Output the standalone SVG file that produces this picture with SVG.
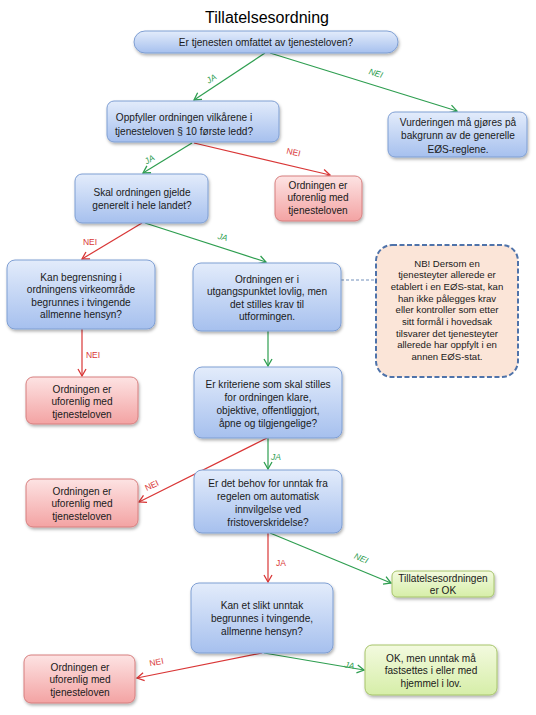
<svg xmlns="http://www.w3.org/2000/svg" width="536" height="715" viewBox="0 0 536 715">
<defs>
<linearGradient id="gBlue" x1="0" y1="0" x2="0" y2="1"><stop offset="0" stop-color="#e3ecfb"/><stop offset="1" stop-color="#a6c0ee"/></linearGradient>
<linearGradient id="gRed" x1="0" y1="0" x2="0" y2="1"><stop offset="0" stop-color="#fde3e3"/><stop offset="1" stop-color="#f3a3a3"/></linearGradient>
<linearGradient id="gGreen" x1="0" y1="0" x2="0" y2="1"><stop offset="0" stop-color="#f3fadf"/><stop offset="1" stop-color="#d6eea8"/></linearGradient>
<filter id="sh" x="-10%" y="-10%" width="125%" height="135%"><feDropShadow dx="1" dy="2" stdDeviation="1.5" flood-color="#000" flood-opacity="0.3"/></filter>
<marker id="aG" markerWidth="10" markerHeight="10" refX="8" refY="5" orient="auto" markerUnits="userSpaceOnUse"><path d="M1,1 L8,5 L1,9" fill="none" stroke="#2e9e50" stroke-width="1.3"/></marker>
<marker id="aR" markerWidth="10" markerHeight="10" refX="8" refY="5" orient="auto" markerUnits="userSpaceOnUse"><path d="M1,1 L8,5 L1,9" fill="none" stroke="#d93636" stroke-width="1.3"/></marker>
<style>
text{font-family:"Liberation Sans",Arial,sans-serif;font-size:10.1px;fill:#1a1a1a;text-anchor:middle}
.title{font-size:16px;fill:#000}
.blue{fill:url(#gBlue);stroke:#7f9fd3;stroke-width:1;filter:url(#sh)}
.red{fill:url(#gRed);stroke:#d77f7f;stroke-width:1;filter:url(#sh)}
.green{fill:url(#gGreen);stroke:#a6c46a;stroke-width:1;filter:url(#sh)}
.nb{fill:#fbe5d8;stroke:#4f73aa;stroke-width:2;stroke-dasharray:5,2.5}
.lg{stroke:#2e9e50;stroke-width:1.2;fill:none;marker-end:url(#aG)}
.lr{stroke:#d93636;stroke-width:1.2;fill:none;marker-end:url(#aR)}
.dash{stroke:#4f73aa;stroke-width:0.8;stroke-dasharray:3,2;fill:none}
.tg{fill:#2e9e50;font-size:8.5px;font-style:italic}
.tr{fill:#d93636;font-size:8.5px}
.nbt{font-size:9.6px}
</style>
</defs>
<text class="title" x="267" y="23">Tillatelsesordning</text>

<g id="connectors">
<line class="lg" x1="265" y1="53" x2="194" y2="100"/>
<line class="lg" x1="270" y1="53" x2="457" y2="111"/>
<line class="lg" x1="192" y1="143" x2="143" y2="173"/>
<line class="lr" x1="194" y1="143" x2="330" y2="175"/>
<line class="lr" x1="142" y1="223" x2="82" y2="259"/>
<line class="lg" x1="145" y1="223" x2="266" y2="262"/>
<line class="dash" x1="341" y1="280" x2="376" y2="280"/>
<line class="lr" x1="82" y1="329" x2="82" y2="376"/>
<line class="lg" x1="268" y1="331" x2="268" y2="366"/>
<line class="lg" x1="268" y1="438" x2="268" y2="469"/>
<line class="lr" x1="267" y1="438" x2="139" y2="502"/>
<line class="lr" x1="268" y1="533" x2="268" y2="582"/>
<line class="lg" x1="270" y1="533" x2="391" y2="583"/>
<line class="lr" x1="262" y1="653" x2="137" y2="678"/>
<line class="lg" x1="264" y1="653" x2="364" y2="670"/>
<text class="tg" transform="translate(213,81) rotate(-33)">JA</text>
<text class="tg" transform="translate(375,76) rotate(17)">NEI</text>
<text class="tg" transform="translate(151,162) rotate(-32)">JA</text>
<text class="tr" transform="translate(293,155) rotate(13)">NEI</text>
<text class="tr" x="90" y="245">NEI</text>
<text class="tg" transform="translate(222,240) rotate(14)">JA</text>
<text class="tr" x="93" y="358">NEI</text>
<text class="tg" x="276" y="460">JA</text>
<text class="tr" transform="translate(153,488) rotate(-26)">NEI</text>
<text class="tr" x="281" y="566">JA</text>
<text class="tg" transform="translate(360,561) rotate(22)">NEI</text>
<text class="tr" transform="translate(157,665) rotate(-11)">NEI</text>
<text class="tg" transform="translate(349,668) rotate(10)">JA</text>
</g>

<g id="n1"><rect class="blue" x="134" y="31" width="264" height="22" rx="11"/>
<text x="266" y="45.5">Er tjenesten omfattet av tjenesteloven?</text></g>

<g id="n2"><rect class="blue" x="107" y="101" width="172" height="41" rx="7"/>
<text x="184" y="121">Oppfyller ordningen vilkårene i</text><text x="184" y="134.5">tjenesteloven § 10 første ledd?</text></g>

<g id="n3"><rect class="blue" x="388" y="112" width="139" height="45" rx="7"/>
<text x="458" y="125.5">Vurderingen må gjøres på</text><text x="458" y="139">bakgrunn av de generelle</text><text x="458" y="152.5">EØS-reglene.</text></g>

<g id="n4"><rect class="blue" x="75" y="174" width="133" height="49" rx="7"/>
<text x="142" y="196">Skal ordningen gjelde</text><text x="142" y="209">generelt i hele landet?</text></g>

<g id="n5"><rect class="red" x="275" y="176" width="87" height="45" rx="7"/>
<text x="318" y="188.5">Ordningen er</text><text x="318" y="201">uforenlig med</text><text x="318" y="213.5">tjenesteloven</text></g>

<g id="n6"><rect class="blue" x="7" y="260" width="148" height="69" rx="8"/>
<text x="81" y="280.5">Kan begrensning i</text><text x="81" y="293">ordningens virkeområde</text><text x="81" y="305.5">begrunnes i tvingende</text><text x="81" y="318">allmenne hensyn?</text></g>

<g id="n7"><rect class="blue" x="193" y="263" width="148" height="68" rx="8"/>
<text x="267" y="282.5">Ordningen er i</text><text x="267" y="295">utgangspunktet lovlig, men</text><text x="267" y="307.5">det stilles krav til</text><text x="267" y="320">utformingen.</text></g>

<g id="nb"><rect class="nb" x="376" y="245" width="142" height="132" rx="16"/>
<text class="nbt" x="447" y="266.5">NB! Dersom en</text>
<text class="nbt" x="447" y="278.2">tjenesteyter allerede er</text>
<text class="nbt" x="447" y="289.9">etablert i en EØS-stat, kan</text>
<text class="nbt" x="447" y="301.6">han ikke pålegges krav</text>
<text class="nbt" x="447" y="313.3">eller kontroller som etter</text>
<text class="nbt" x="447" y="325">sitt formål i hovedsak</text>
<text class="nbt" x="447" y="336.7">tilsvarer det tjenesteyter</text>
<text class="nbt" x="447" y="348.4">allerede har oppfylt i en</text>
<text class="nbt" x="447" y="360.1">annen EØS-stat.</text></g>

<g id="n8"><rect class="red" x="26" y="377" width="112" height="47" rx="7"/>
<text x="82" y="392.5">Ordningen er</text><text x="82" y="405">uforenlig med</text><text x="82" y="417.5">tjenesteloven</text></g>

<g id="n9"><rect class="blue" x="194" y="367" width="148" height="71" rx="8"/>
<text x="268" y="387.5">Er kriteriene som skal stilles</text><text x="268" y="400.5">for ordningen klare,</text><text x="268" y="413.5">objektive, offentliggjort,</text><text x="268" y="426.5">åpne og tilgjengelige?</text></g>

<g id="n10"><rect class="red" x="26" y="479" width="112" height="48" rx="7"/>
<text x="82" y="494.5">Ordningen er</text><text x="82" y="507">uforenlig med</text><text x="82" y="519.5">tjenesteloven</text></g>

<g id="n11"><rect class="blue" x="194" y="470" width="148" height="63" rx="8"/>
<text x="268" y="486.5">Er det behov for unntak fra</text><text x="268" y="499.5">regelen om automatisk</text><text x="268" y="512.5">innvilgelse ved</text><text x="268" y="525.5">fristoverskridelse?</text></g>

<g id="n12"><rect class="green" x="392" y="571" width="102" height="26" rx="5"/>
<text x="443" y="581.5">Tillatelsesordningen</text><text x="443" y="594">er OK</text></g>

<g id="n13"><rect class="blue" x="191" y="583" width="142" height="70" rx="8"/>
<text x="262" y="608.5">Kan et slikt unntak</text><text x="262" y="621.5">begrunnes i tvingende,</text><text x="262" y="634.5">allmenne hensyn?</text></g>

<g id="n14"><rect class="red" x="24" y="655" width="111" height="48" rx="7"/>
<text x="80" y="670.5">Ordningen er</text><text x="80" y="683">uforenlig med</text><text x="80" y="695.5">tjenesteloven</text></g>

<g id="n15"><rect class="green" x="365" y="645" width="132" height="50" rx="7"/>
<text x="431" y="661.5">OK, men unntak må</text><text x="431" y="674">fastsettes i eller med</text><text x="431" y="686.5">hjemmel i lov.</text></g>
</svg>
